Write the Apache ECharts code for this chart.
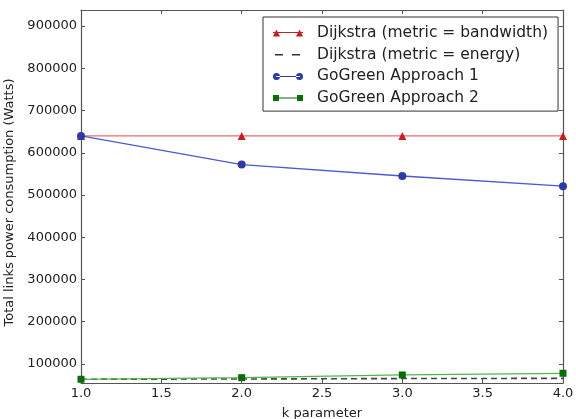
<!DOCTYPE html>
<html><head><meta charset="utf-8">
<script src="https://cdn.jsdelivr.net/npm/echarts@6/dist/echarts.min.js"></script>
<style>html,body{margin:0;padding:0;background:#fff}#c{width:576px;height:419px}</style>
</head><body><div id="c"></div>
<script>
const kValues = [1.0, 2.0, 3.0, 4.0];
const dijkstraBandwidth = [640000, 640000, 640000, 640000];
const dijkstraEnergy = [64000, 64500, 65500, 66000];
const goGreen1 = [640000, 572000, 545000, 521000];
const goGreen2 = [63800, 67600, 74000, 78000];
const yTicks = [100000, 200000, 300000, 400000, 500000, 600000, 700000, 800000, 900000];
const seriesNames = ['Dijkstra (metric = bandwidth)', 'Dijkstra (metric = energy)', 'GoGreen Approach 1', 'GoGreen Approach 2'];

const pair = (xs, ys) => xs.map((x, i) => [x, ys[i]]);
const font = 'DejaVu Sans';
const txt = '#222';
const axisCol = '#555';

const icons = {
  tri: 'path://M0 3.5H30V4.5H0Z M0 8L3.5 1L7 8Z M23 8L26.5 1L30 8Z',
  dash: 'path://M0 0H0.01V0.01H0Z M2 3.4H10V4.9H2Z M19 3.4H27V4.9H19Z M29.99 7.99H30V8H29.99Z',
  circ: 'path://M3 3.5H27V4.5H3Z M0 4A3.5 3.5 0 1 0 7 4A3.5 3.5 0 1 0 0 4Z M23 4A3.5 3.5 0 1 0 30 4A3.5 3.5 0 1 0 23 4Z',
  sq: 'path://M0 1H6V7H0Z M24 1H30V7H24Z M0 3.5H30V4.5H0Z'
};

const chart = echarts.init(document.getElementById('c'), null, {renderer: 'canvas'});
chart.setOption({
  animation: false,
  backgroundColor: '#fff',
  textStyle: {fontFamily: font, color: txt},
  grid: {left: 81, right: 13, top: 10, bottom: 36, containLabel: false, outerBoundsMode: 'none'},
  legend: {
    orient: 'vertical', left: 263, top: 17,
    backgroundColor: '#fff', borderColor: '#333', borderWidth: 1,
    padding: [7, 10, 4, 10],
    itemWidth: 30, itemHeight: 8, itemGap: 3.7,
    textStyle: {fontFamily: font, fontSize: 15.5, color: txt, lineHeight: 18, padding: [0, 0, 0, 9]},
    itemStyle: {borderWidth: 0},
    data: [
      {name: seriesNames[0], icon: icons.tri},
      {name: seriesNames[1], icon: icons.dash, itemStyle: {color: '#333'}},
      {name: seriesNames[2], icon: icons.circ},
      {name: seriesNames[3], icon: icons.sq}
    ]
  },
  xAxis: [{
    type: 'value', min: 1, max: 4, interval: 0.5,
    name: 'k parameter', nameLocation: 'middle', nameGap: 24,
    nameTextStyle: {fontFamily: font, fontSize: 13, color: txt},
    axisLine: {show: true, lineStyle: {color: axisCol, width: 1.2}},
    axisTick: {show: true, inside: true, length: 4, lineStyle: {color: axisCol}},
    axisLabel: {fontFamily: font, fontSize: 13, color: txt, margin: 4, formatter: v => v.toFixed(1)},
    splitLine: {show: false}
  }, {
    type: 'value', min: 1, max: 4, interval: 0.5, position: 'top',
    axisLine: {show: true, lineStyle: {color: axisCol, width: 1.2}},
    axisTick: {show: true, inside: true, length: 4, lineStyle: {color: axisCol}},
    axisLabel: {show: false}, splitLine: {show: false}
  }],
  yAxis: [{
    type: 'value', min: 55000, max: 938000,
    name: 'Total links power consumption (Watts)', nameLocation: 'middle', nameGap: 57,
    nameTextStyle: {fontFamily: font, fontSize: 13, color: txt, padding: [0, 12, 0, 0]},
    axisLine: {show: true, lineStyle: {color: axisCol, width: 1.2}},
    axisTick: {show: true, inside: true, length: 4, lineStyle: {color: axisCol}, customValues: yTicks},
    axisLabel: {fontFamily: font, fontSize: 13, color: txt, margin: 4, customValues: yTicks, formatter: v => String(v)},
    splitLine: {show: false}
  }, {
    type: 'value', min: 55000, max: 938000, position: 'right',
    axisLine: {show: true, lineStyle: {color: axisCol, width: 1.2}},
    axisTick: {show: true, inside: true, length: 4, lineStyle: {color: axisCol}, customValues: yTicks},
    axisLabel: {show: false}, splitLine: {show: false}
  }],
  series: [
    {
      name: seriesNames[0], type: 'line', data: pair(kValues, dijkstraBandwidth),
      symbol: 'triangle', symbolSize: 8, clip: true,
      itemStyle: {color: '#c81e1e'}, lineStyle: {color: '#f26a6a', width: 1.3}, z: 3
    },
    {
      name: seriesNames[1], type: 'line', data: pair(kValues, dijkstraEnergy),
      symbol: 'none', clip: true,
      itemStyle: {color: '#333'}, lineStyle: {color: '#444', width: 1.6, type: [6, 4]}, z: 2
    },
    {
      name: seriesNames[2], type: 'line', data: pair(kValues, goGreen1),
      symbol: 'circle', symbolSize: 8, clip: true,
      itemStyle: {color: '#2b3aa6'}, lineStyle: {color: '#4a5ad0', width: 1.3}, z: 4
    },
    {
      name: seriesNames[3], type: 'line', data: pair(kValues, goGreen2),
      symbol: 'rect', symbolSize: 7, clip: true,
      itemStyle: {color: '#0b6b0b'}, lineStyle: {color: '#4cb84c', width: 1.3}, z: 4
    }
  ]
});
</script></body></html>
